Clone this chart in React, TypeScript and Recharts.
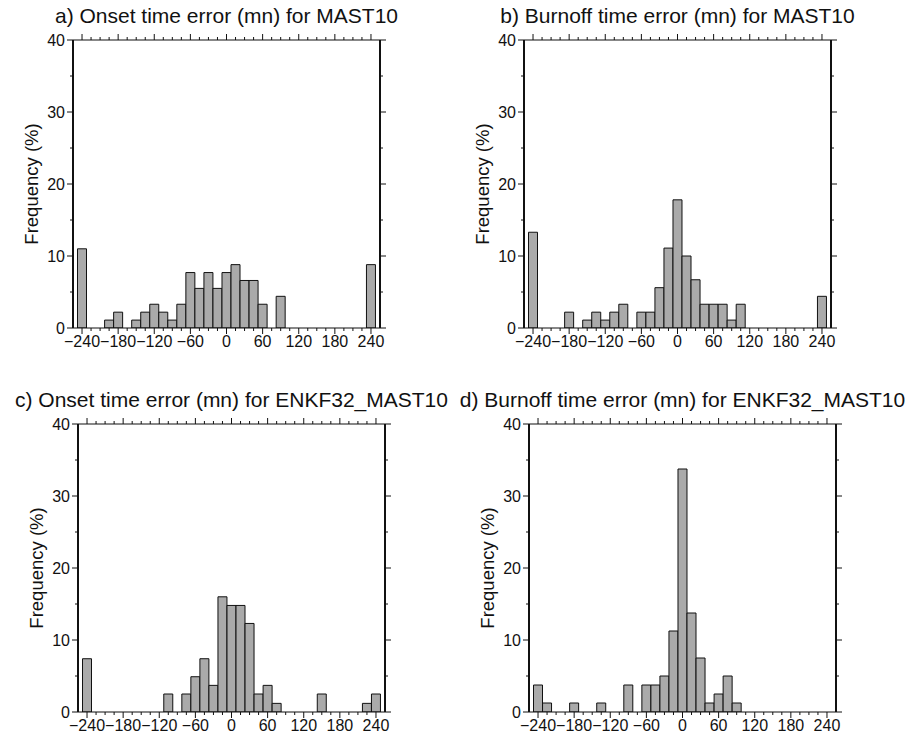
import { BarChart, Bar, XAxis, YAxis } from 'recharts';

// 15-minute bins, centres in minutes
const BINS = [
  -240, -225, -210, -195, -180, -165, -150, -135, -120, -105, -90, -75, -60, -45, -30, -15,
  0, 15, 30, 45, 60, 75, 90, 105, 120, 135, 150, 165, 180, 195, 210, 225, 240,
];

// frequency (%) per bin
const ONSET_MAST10 = [
  11.0, 0, 0, 1.1, 2.2, 0, 1.1, 2.2, 3.3, 2.2, 1.1, 3.3, 7.7, 5.5, 7.7, 5.5,
  7.7, 8.8, 6.6, 6.6, 3.3, 0, 4.4, 0, 0, 0, 0, 0, 0, 0, 0, 0, 8.8,
];
const BURNOFF_MAST10 = [
  13.3, 0, 0, 0, 2.2, 0, 1.1, 2.2, 1.1, 2.2, 3.3, 0, 2.2, 2.2, 5.6, 11.1,
  17.8, 10.0, 6.7, 3.3, 3.3, 3.3, 1.1, 3.3, 0, 0, 0, 0, 0, 0, 0, 0, 4.4,
];
const ONSET_ENKF32 = [
  7.4, 0, 0, 0, 0, 0, 0, 0, 0, 2.5, 0, 2.5, 4.9, 7.4, 3.7, 16.0,
  14.8, 14.8, 12.3, 2.5, 3.7, 1.2, 0, 0, 0, 0, 2.5, 0, 0, 0, 0, 1.2, 2.5,
];
const BURNOFF_ENKF32 = [
  3.75, 1.25, 0, 0, 1.25, 0, 0, 1.25, 0, 0, 3.75, 0, 3.75, 3.75, 5.0, 11.25,
  33.75, 13.75, 7.5, 1.25, 2.5, 5.0, 1.25, 0, 0, 0, 0, 0, 0, 0, 0, 0, 0,
];

const TITLES = [
  'a) Onset time error (mn) for MAST10',
  'b) Burnoff time error (mn) for MAST10',
  'c) Onset time error (mn) for ENKF32_MAST10',
  'd) Burnoff time error (mn) for ENKF32_MAST10',
];
const Y_LABEL = 'Frequency (%)';
const X_TICKS = BINS;
const Y_TICKS = [0, 5, 10, 15, 20, 25, 30, 35, 40];

const INK = '#111';
const FONT = '"Liberation Sans", Arial, Helvetica, sans-serif';
const PLOT_W = 307;
const PLOT_H = 288;
const LEFT_W = 50;
const RIGHT_W = 20;
const TOP_H = 12;
const BOTTOM_H = 30;

const LAYOUT = [
  { left: 73, top: 40 },
  { left: 524, top: 40 },
  { left: 78, top: 424 },
  { left: 529, top: 424 },
];

const fmtMin = (v: number) => (v < 0 ? '\u2212' + Math.abs(v) : String(v));

const BottomTick = (props: any) => {
  const { x, y, payload } = props;
  const major = payload.value % 60 === 0;
  return (
    <g>
      <line x1={x} y1={y} x2={x} y2={y + (major ? 6 : 3)} stroke={INK} strokeWidth={1} />
      {major && (
        <text x={x} y={y + 19} textAnchor="middle" fontSize={16} fontFamily={FONT} fill={INK}>
          {fmtMin(payload.value)}
        </text>
      )}
    </g>
  );
};

const TopTick = (props: any) => {
  const { x, y, payload } = props;
  const major = payload.value % 60 === 0;
  return <line x1={x} y1={y} x2={x} y2={y - (major ? 6 : 3)} stroke={INK} strokeWidth={1} />;
};

const LeftTick = (props: any) => {
  const { x, y, payload } = props;
  const major = payload.value % 10 === 0;
  return (
    <g>
      <line x1={x} y1={y} x2={x - (major ? 6 : 3)} y2={y} stroke={INK} strokeWidth={1} />
      {major && (
        <text x={x - 8} y={y + 5.5} textAnchor="end" fontSize={16} fontFamily={FONT} fill={INK}>
          {payload.value}
        </text>
      )}
    </g>
  );
};

const RightTick = (props: any) => {
  const { x, y, payload } = props;
  const major = payload.value % 10 === 0;
  return <line x1={x} y1={y} x2={x + (major ? 6 : 3)} y2={y} stroke={INK} strokeWidth={1} />;
};

function Histogram({ values }: { values: number[] }) {
  const data = BINS.map((x, i) => ({ x, v: values[i] }));
  return (
    <BarChart
      width={LEFT_W + PLOT_W + RIGHT_W}
      height={TOP_H + PLOT_H + BOTTOM_H}
      data={data}
      margin={{ top: 0, right: 0, bottom: 0, left: 0 }}
      barCategoryGap={0}
      barGap={0}
    >
      <XAxis
        xAxisId="bottom"
        dataKey="x"
        type="number"
        domain={[-255, 255]}
        allowDataOverflow
        ticks={X_TICKS}
        interval={0}
        height={BOTTOM_H}
        tickSize={0}
        tickMargin={0}
        tickLine={false}
        tick={BottomTick}
        axisLine={{ stroke: INK, strokeWidth: 1.2 }}
      />
      <XAxis
        xAxisId="top"
        orientation="top"
        dataKey="x"
        type="number"
        domain={[-255, 255]}
        allowDataOverflow
        ticks={X_TICKS}
        interval={0}
        height={TOP_H}
        tickSize={0}
        tickMargin={0}
        tickLine={false}
        tick={TopTick}
        axisLine={{ stroke: INK, strokeWidth: 1.2 }}
      />
      <YAxis
        yAxisId="left"
        type="number"
        domain={[0, 40]}
        allowDataOverflow
        ticks={Y_TICKS}
        interval={0}
        width={LEFT_W}
        tickSize={0}
        tickMargin={0}
        tickLine={false}
        tick={LeftTick}
        axisLine={{ stroke: INK, strokeWidth: 2 }}
      />
      <YAxis
        yAxisId="right"
        orientation="right"
        type="number"
        domain={[0, 40]}
        allowDataOverflow
        ticks={Y_TICKS}
        interval={0}
        width={RIGHT_W}
        tickSize={0}
        tickMargin={0}
        tickLine={false}
        tick={RightTick}
        axisLine={{ stroke: INK, strokeWidth: 2 }}
      />
      <Bar
        xAxisId="bottom"
        yAxisId="left"
        dataKey="v"
        fill="#aaaaaa"
        stroke={INK}
        strokeWidth={1}
        isAnimationActive={false}
      />
    </BarChart>
  );
}

export default function App() {
  const series = [ONSET_MAST10, BURNOFF_MAST10, ONSET_ENKF32, BURNOFF_ENKF32];
  return (
    <div style={{ position: 'absolute', left: 0, top: 0, width: 911, height: 737, background: '#fff' }}>
      {series.map((values, i) => (
        <div
          key={i}
          style={{ position: 'absolute', left: LAYOUT[i].left - LEFT_W, top: LAYOUT[i].top - TOP_H }}
        >
          <Histogram values={values} />
        </div>
      ))}
      <svg
        width={911}
        height={737}
        style={{ position: 'absolute', left: 0, top: 0, pointerEvents: 'none' }}
        fontFamily={FONT}
        fill={INK}
      >
        {LAYOUT.map((p, i) => (
          <g key={i}>
            <text x={p.left + PLOT_W / 2} y={p.top - 17} textAnchor="middle" fontSize={21}>
              {TITLES[i]}
            </text>
            <text
              x={p.left - 41.5}
              y={p.top + PLOT_H / 2}
              textAnchor="middle"
              dominantBaseline="central"
              fontSize={18.5}
              transform={`rotate(-90, ${p.left - 41.5}, ${p.top + PLOT_H / 2})`}
            >
              {Y_LABEL}
            </text>
          </g>
        ))}
      </svg>
    </div>
  );
}
